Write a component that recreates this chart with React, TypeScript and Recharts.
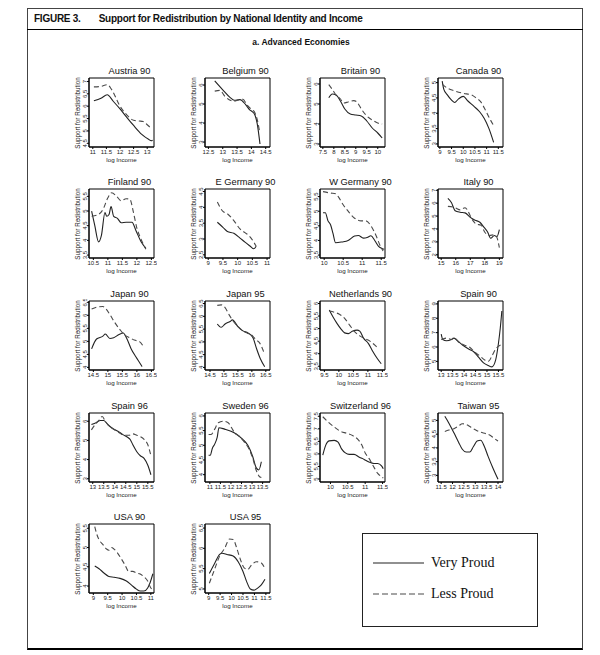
import React from 'react';
import { LineChart, Line, XAxis, YAxis, ReferenceArea } from 'recharts';

type Pt = [number, number];

// ---------- data (x = log income, y = support for redistribution) ----------
const austriaVery: Pt[] = [[11.04, 6.22], [11.3, 6.32], [11.53, 6.46], [11.75, 6.2], [12.0, 5.89], [12.25, 5.55], [12.5, 5.22], [12.8, 4.86], [13.05, 4.66], [13.15, 4.6], [13.2, 4.62]];
const austriaLess: Pt[] = [[11.04, 6.78], [11.3, 6.8], [11.53, 6.87], [11.7, 6.66], [12.0, 6.0], [12.25, 5.65], [12.5, 5.43], [12.7, 5.4], [12.85, 5.38], [13.0, 5.25], [13.15, 5.1]];
const belgiumVery: Pt[] = [[12.72, 6.22], [13.0, 5.75], [13.26, 5.34], [13.4, 5.2], [13.6, 5.23], [13.8, 4.97], [13.95, 4.68], [14.03, 4.6], [14.13, 4.4], [14.2, 4.0], [14.3, 2.9]];
const belgiumLess: Pt[] = [[12.72, 5.68], [12.9, 5.72], [13.08, 5.4], [13.26, 5.2], [13.4, 5.15], [13.55, 5.22], [13.7, 5.25], [13.85, 4.95], [14.0, 4.72], [14.1, 4.6], [14.2, 4.2], [14.28, 3.6]];
const britainVery: Pt[] = [[7.77, 5.31], [7.93, 5.5], [8.1, 5.45], [8.3, 5.15], [8.5, 4.75], [8.75, 4.5], [9.0, 4.45], [9.25, 4.4], [9.5, 4.15], [9.75, 3.8], [10.0, 3.55], [10.2, 3.3]];
const britainLess: Pt[] = [[7.77, 5.97], [7.93, 5.73], [8.1, 5.45], [8.3, 5.25], [8.45, 5.05], [8.65, 5.1], [8.9, 5.17], [9.05, 5.1], [9.25, 4.75], [9.5, 4.4], [9.75, 4.2], [10.0, 4.05], [10.2, 4.0]];
const canadaVery: Pt[] = [[9.1, 5.05], [9.17, 4.78], [9.32, 4.6], [9.47, 4.45], [9.63, 4.35], [9.8, 4.47], [10.0, 4.55], [10.2, 4.4], [10.45, 4.23], [10.7, 4.05], [10.9, 3.83], [11.1, 3.5], [11.3, 3.05]];
const canadaLess: Pt[] = [[9.1, 4.95], [9.32, 4.82], [9.63, 4.73], [10.0, 4.65], [10.35, 4.6], [10.55, 4.5], [10.75, 4.37], [10.95, 4.1], [11.15, 3.8], [11.3, 3.6]];
const finlandVery: Pt[] = [[10.44, 5.0], [10.55, 4.5], [10.68, 3.95], [10.78, 4.18], [10.9, 4.95], [10.96, 4.82], [11.04, 4.88], [11.11, 5.15], [11.2, 4.82], [11.33, 4.75], [11.46, 4.6], [11.63, 4.62], [11.83, 4.62], [11.97, 4.33], [12.14, 3.96], [12.31, 3.73]];
const finlandLess: Pt[] = [[10.44, 4.82], [10.65, 4.87], [10.83, 5.05], [11.0, 5.45], [11.13, 5.62], [11.3, 5.5], [11.46, 5.35], [11.63, 5.42], [11.76, 5.4], [11.88, 4.96], [12.0, 4.42], [12.14, 4.05], [12.31, 3.7]];
const eGermanyVery: Pt[] = [[9.31, 3.53], [9.5, 3.37], [9.65, 3.24], [9.87, 3.18], [10.08, 3.03], [10.25, 2.9], [10.42, 2.78], [10.55, 2.69], [10.63, 2.77]];
const eGermanyLess: Pt[] = [[9.31, 4.17], [9.5, 3.87], [9.65, 3.8], [9.87, 3.58], [10.08, 3.32], [10.25, 3.2], [10.42, 3.07], [10.55, 2.9], [10.63, 2.77]];
const wGermanyVery: Pt[] = [[9.97, 4.95], [10.03, 4.95], [10.1, 4.67], [10.17, 4.53], [10.23, 4.25], [10.3, 3.92], [10.47, 3.95], [10.63, 4.0], [10.8, 4.15], [10.9, 4.17], [11.03, 4.08], [11.13, 4.1], [11.23, 4.16], [11.33, 4.0], [11.43, 3.8], [11.53, 3.72], [11.58, 3.7]];
const wGermanyLess: Pt[] = [[9.97, 5.67], [10.17, 5.62], [10.3, 5.6], [10.37, 5.5], [10.5, 5.22], [10.63, 5.0], [10.8, 4.76], [10.97, 4.67], [11.1, 4.67], [11.23, 4.5], [11.37, 4.15], [11.47, 3.83], [11.55, 3.64]];
const italyVery: Pt[] = [[15.46, 6.37], [15.7, 6.05], [15.96, 5.42], [16.3, 5.3], [16.64, 5.25], [17.0, 4.9], [17.33, 4.68], [17.66, 4.52], [17.92, 4.17], [18.2, 3.75], [18.4, 3.28], [18.66, 3.5], [18.83, 3.4], [19.0, 3.95]];
const italyLess: Pt[] = [[15.46, 5.75], [15.96, 5.65], [16.3, 5.48], [16.64, 5.65], [16.8, 5.48], [17.07, 4.85], [17.4, 4.39], [17.75, 4.28], [18.0, 3.75], [18.3, 3.5], [18.66, 3.55], [18.83, 3.35], [19.0, 2.55]];
const japan90Very: Pt[] = [[14.44, 4.71], [14.61, 5.09], [14.83, 5.2], [14.91, 5.28], [15.07, 5.11], [15.2, 5.14], [15.37, 5.25], [15.53, 5.32], [15.66, 5.09], [15.8, 4.72], [15.97, 4.4], [16.09, 4.19], [16.18, 4.03]];
const japan90Less: Pt[] = [[14.44, 6.24], [14.61, 6.31], [14.83, 6.34], [14.94, 6.24], [15.07, 6.03], [15.24, 5.72], [15.41, 5.46], [15.57, 5.25], [15.74, 5.15], [15.91, 5.05], [16.09, 4.99], [16.22, 4.81]];
const japan95Very: Pt[] = [[14.76, 5.7], [14.9, 5.57], [15.04, 5.7], [15.22, 5.8], [15.3, 5.86], [15.5, 5.6], [15.68, 5.43], [15.86, 5.35], [16.04, 5.16], [16.17, 4.73], [16.3, 4.35], [16.46, 4.03]];
const japan95Less: Pt[] = [[14.76, 6.43], [14.9, 6.45], [15.04, 6.34], [15.18, 6.07], [15.3, 5.86], [15.5, 5.6], [15.68, 5.43], [15.86, 5.33], [16.04, 5.22], [16.13, 5.1], [16.27, 4.97], [16.38, 4.73], [16.46, 4.5]];
const netherlandsVery: Pt[] = [[9.67, 5.74], [9.8, 5.46], [9.94, 5.2], [10.07, 4.99], [10.2, 4.83], [10.33, 4.8], [10.46, 4.89], [10.63, 4.94], [10.72, 4.9], [10.85, 4.62], [11.02, 4.4], [11.15, 4.13], [11.33, 3.8], [11.46, 3.6]];
const netherlandsLess: Pt[] = [[9.67, 5.7], [9.85, 5.65], [10.02, 5.57], [10.2, 5.41], [10.37, 5.14], [10.55, 4.87], [10.72, 4.71], [10.89, 4.6], [11.07, 4.5], [11.24, 4.34], [11.37, 4.18]];
const spain90Very: Pt[] = [[13.0, 6.9], [13.07, 6.52], [13.23, 6.43], [13.45, 6.52], [13.56, 6.62], [13.72, 6.43], [13.93, 6.14], [14.2, 5.86], [14.42, 5.67], [14.63, 5.29], [14.85, 4.9], [15.06, 4.71], [15.22, 4.62], [15.38, 5.1], [15.5, 6.24], [15.58, 7.3], [15.65, 8.5]];
const spain90Less: Pt[] = [[13.0, 6.52], [13.23, 6.62], [13.45, 6.52], [13.56, 6.65], [13.77, 6.33], [14.0, 6.14], [14.27, 5.95], [14.48, 5.62], [14.69, 5.38], [14.9, 5.1], [15.06, 5.0], [15.22, 5.38], [15.38, 5.86], [15.6, 6.14]];
const spain96Very: Pt[] = [[12.94, 5.83], [13.17, 5.94], [13.34, 6.04], [13.5, 6.04], [13.68, 5.83], [13.9, 5.62], [14.14, 5.48], [14.37, 5.3], [14.6, 5.15], [14.7, 5.05], [14.82, 4.77], [15.0, 4.41], [15.16, 4.2], [15.33, 4.06], [15.5, 3.7], [15.64, 3.21]];
const spain96Less: Pt[] = [[12.94, 5.55], [13.11, 5.83], [13.28, 6.04], [13.43, 6.25], [13.57, 6.0], [13.74, 5.76], [13.97, 5.57], [14.2, 5.4], [14.43, 5.27], [14.66, 5.27], [14.82, 5.34], [15.0, 5.27], [15.16, 5.2], [15.33, 5.06], [15.5, 4.77], [15.64, 4.2]];
const swedenVery: Pt[] = [[10.94, 4.66], [11.02, 4.66], [11.12, 4.9], [11.23, 5.04], [11.35, 5.28], [11.43, 5.6], [11.7, 5.55], [12.0, 5.48], [12.28, 5.37], [12.56, 5.2], [12.8, 5.0], [13.03, 4.62], [13.2, 4.23], [13.32, 4.16], [13.44, 4.44]];
const swedenLess: Pt[] = [[10.94, 5.37], [11.06, 5.37], [11.23, 5.55], [11.4, 5.77], [11.64, 5.82], [11.87, 5.77], [12.0, 5.63], [12.16, 5.44], [12.4, 5.3], [12.62, 5.12], [12.85, 4.88], [13.03, 4.56], [13.2, 4.14], [13.32, 3.96], [13.44, 3.9]];
const switzerlandVery: Pt[] = [[9.78, 5.95], [9.86, 6.33], [9.96, 6.52], [10.11, 6.54], [10.22, 6.47], [10.32, 6.2], [10.43, 6.04], [10.54, 5.98], [10.68, 5.98], [10.83, 5.87], [10.97, 5.78], [11.11, 5.68], [11.25, 5.62], [11.36, 5.62], [11.47, 5.52], [11.52, 5.41]];
const switzerlandLess: Pt[] = [[9.78, 7.48], [9.93, 7.28], [10.11, 7.07], [10.29, 6.9], [10.47, 6.82], [10.65, 6.72], [10.79, 6.58], [10.9, 6.36], [11.0, 6.04], [11.11, 5.82], [11.22, 5.55], [11.36, 5.22], [11.47, 5.09], [11.52, 5.04]];
const taiwanVery: Pt[] = [[11.66, 5.15], [11.84, 4.9], [12.06, 4.55], [12.27, 4.2], [12.43, 3.95], [12.6, 3.85], [12.76, 3.85], [12.92, 4.05], [13.08, 4.25], [13.24, 4.28], [13.4, 4.05], [13.56, 3.7], [13.78, 3.26], [14.0, 2.86]];
const taiwanLess: Pt[] = [[11.66, 4.6], [11.84, 4.65], [12.06, 4.7], [12.27, 4.8], [12.43, 4.88], [12.6, 4.85], [12.81, 4.75], [13.02, 4.65], [13.24, 4.57], [13.46, 4.52], [13.67, 4.45], [13.83, 4.35], [14.0, 4.25]];
const usa90Very: Pt[] = [[9.05, 4.52], [9.2, 4.45], [9.37, 4.34], [9.54, 4.25], [9.72, 4.23], [9.93, 4.2], [10.15, 4.13], [10.32, 4.03], [10.5, 3.92], [10.63, 3.87], [10.76, 3.87], [10.89, 3.95], [10.98, 4.1], [11.07, 4.32]];
const usa90Less: Pt[] = [[9.05, 5.54], [9.11, 5.37], [9.2, 5.2], [9.33, 5.08], [9.46, 4.96], [9.54, 4.93], [9.63, 5.0], [9.72, 4.96], [9.85, 4.85], [9.97, 4.71], [10.1, 4.55], [10.23, 4.38], [10.37, 4.38], [10.5, 4.34], [10.63, 4.31], [10.76, 4.24], [10.89, 4.13], [11.0, 3.95], [11.07, 3.91]];
const usa95Very: Pt[] = [[9.03, 5.38], [9.27, 5.64], [9.48, 5.85], [9.59, 5.88], [9.8, 5.85], [10.07, 5.81], [10.29, 5.67], [10.5, 5.43], [10.66, 5.18], [10.82, 5.0], [10.98, 4.97], [11.14, 5.02], [11.3, 5.1], [11.46, 5.24]];
const usa95Less: Pt[] = [[9.03, 5.14], [9.27, 5.5], [9.48, 5.81], [9.7, 6.0], [9.91, 6.23], [10.07, 6.22], [10.23, 6.0], [10.39, 5.72], [10.55, 5.52], [10.71, 5.48], [10.87, 5.59], [11.09, 5.67], [11.3, 5.64], [11.46, 5.5]];

// ---------- panel names, axis ranges, tick labels ----------
const titles = ['Austria 90', 'Belgium 90', 'Britain 90', 'Canada 90', 'Finland 90', 'E Germany 90', 'W Germany 90', 'Italy 90', 'Japan 90', 'Japan 95', 'Netherlands 90', 'Spain 90', 'Spain 96', 'Sweden 96', 'Switzerland 96', 'Taiwan 95', 'USA 90', 'USA 95'];
const xDomains: Pt[] = [[10.86, 13.25], [12.38, 14.65], [7.37, 10.33], [8.92, 11.7], [10.35, 12.59], [8.89, 11.1], [9.89, 11.6], [14.78, 19.25], [14.35, 16.59], [14.32, 16.65], [9.35, 11.59], [12.86, 15.7], [12.83, 15.78], [10.77, 13.85], [9.7, 11.57], [11.36, 14.22], [8.85, 11.11], [8.84, 11.68]];
const yDomains: Pt[] = [[4.35, 7.14], [2.74, 6.37], [2.85, 6.3], [2.9, 5.15], [3.4, 5.75], [2.4, 4.58], [3.4, 5.76], [1.75, 7.1], [3.9, 6.55], [3.9, 6.6], [3.35, 6.1], [4.4, 9.2], [2.83, 6.43], [3.75, 6.1], [4.88, 7.63], [2.76, 5.27], [3.82, 5.61], [4.9, 6.6]];
const xTicks: number[][] = [[11, 11.5, 12, 12.5, 13], [12.5, 13, 13.5, 14, 14.5], [7.5, 8, 8.5, 9, 9.5, 10], [9, 9.5, 10, 10.5, 11, 11.5], [10.5, 11, 11.5, 12, 12.5], [9, 9.5, 10, 10.5, 11], [10, 10.5, 11, 11.5], [15, 16, 17, 18, 19], [14.5, 15, 15.5, 16, 16.5], [14.5, 15, 15.5, 16, 16.5], [9.5, 10, 10.5, 11, 11.5], [13, 13.5, 14, 14.5, 15, 15.5], [13, 13.5, 14, 14.5, 15, 15.5], [11, 11.5, 12, 12.5, 13, 13.5], [10, 10.5, 11, 11.5], [11.5, 12, 12.5, 13, 13.5, 14], [9, 9.5, 10, 10.5, 11], [9, 9.5, 10, 10.5, 11, 11.5]];
const yTicks: number[][] = [[4.5, 5, 5.5, 6, 6.5, 7], [3, 4, 5, 6], [3, 4, 5, 6], [3, 3.5, 4, 4.5, 5], [3.5, 4, 4.5, 5, 5.5], [2.5, 3, 3.5, 4, 4.5], [3.5, 4, 4.5, 5, 5.5], [2, 3, 4, 5, 6, 7], [4, 4.5, 5, 5.5, 6, 6.5], [4, 4.5, 5, 5.5, 6, 6.5], [3.5, 4, 4.5, 5, 5.5, 6], [5, 6, 7, 8, 9], [3, 4, 5, 6], [4, 4.5, 5, 5.5, 6], [5, 5.5, 6, 6.5, 7, 7.5], [3, 3.5, 4, 4.5, 5], [4, 4.5, 5, 5.5], [5, 5.5, 6, 6.5]];
const veryProud: Pt[][] = [austriaVery, belgiumVery, britainVery, canadaVery, finlandVery, eGermanyVery, wGermanyVery, italyVery, japan90Very, japan95Very, netherlandsVery, spain90Very, spain96Very, swedenVery, switzerlandVery, taiwanVery, usa90Very, usa95Very];
const lessProud: Pt[][] = [austriaLess, belgiumLess, britainLess, canadaLess, finlandLess, eGermanyLess, wGermanyLess, italyLess, japan90Less, japan95Less, netherlandsLess, spain90Less, spain96Less, swedenLess, switzerlandLess, taiwanLess, usa90Less, usa95Less];
const legendLabels = ['Very Proud', 'Less Proud'];

// ---------- layout ----------
const COL_X = [89, 205, 320, 438];
const ROW_Y = [78, 189, 301, 413, 524];
const BW = 65;
const BH = 69;
const YW = 10; // y-axis width (ticks + tick labels)
const XH = 10; // x-axis height
const MT = 2;
const MR = 3;
const SANS = '"Liberation Sans", Arial, Helvetica, sans-serif';
const SERIF = '"Liberation Serif", "Times New Roman", serif';

const YTick = (props: any) => {
  const { x, y, payload } = props;
  const tx = x + 1.5;
  return (
    <text x={tx} y={y} transform={`rotate(-90 ${tx} ${y})`} textAnchor="middle" fontSize={6} fontFamily={SANS} fill="#222">
      {payload.value}
    </text>
  );
};

const toObj = (arr: Pt[]) => arr.map(([x, y]) => ({ x, y }));

function Panel({ i }: { i: number }) {
  const col = i % 4;
  const row = Math.floor(i / 4);
  const bx = COL_X[col];
  const by = ROW_Y[row];
  const cw = YW + BW + MR;
  const ch = MT + BH + XH;
  const [x0, x1] = xDomains[i];
  const [y0, y1] = yDomains[i];
  return (
    <>
      <div style={{ position: 'absolute', left: bx - 2, top: by - 12, width: BW + 20, textAlign: 'center', fontFamily: SANS, fontSize: 9.3, lineHeight: '11px', color: '#111', whiteSpace: 'nowrap' }}>
        {titles[i]}
      </div>
      <div style={{ position: 'absolute', left: bx - 11.5 - 50, top: by + BH / 2 - 4, width: 100, height: 8, textAlign: 'center', transform: 'rotate(-90deg)', transformOrigin: '50px 4px', fontFamily: SANS, fontSize: 6.3, lineHeight: '8px', color: '#222', whiteSpace: 'nowrap' }}>
        Support for Redistribution
      </div>
      <div style={{ position: 'absolute', left: bx - 10, top: by + BH + 9, width: BW + 20, textAlign: 'center', fontFamily: SANS, fontSize: 6.2, lineHeight: '7px', color: '#222' }}>
        log Income
      </div>
      <div style={{ position: 'absolute', left: bx - YW, top: by - MT }}>
        <LineChart width={cw} height={ch} margin={{ top: MT, right: MR, bottom: 0, left: 0 }}>
          <XAxis
            type="number"
            dataKey="x"
            domain={[x0, x1]}
            ticks={xTicks[i]}
            allowDataOverflow
            height={XH}
            tickSize={2}
            tickMargin={0.3}
            interval={0}
            stroke="#000"
            tick={{ fontSize: 6, fontFamily: SANS, fill: '#222' }}
          />
          <YAxis
            type="number"
            dataKey="y"
            domain={[y0, y1]}
            ticks={yTicks[i]}
            allowDataOverflow
            width={YW}
            tickSize={2}
            tickMargin={1.5}
            interval={0}
            stroke="#000"
            tick={<YTick />}
          />
          <ReferenceArea x1={x0} x2={x1} y1={y0} y2={y1} fill="none" stroke="#000" strokeWidth={1} fillOpacity={0} />
          <Line data={toObj(veryProud[i])} dataKey="y" type="monotone" stroke="#222" strokeWidth={1.1} dot={false} isAnimationActive={false} />
          <Line data={toObj(lessProud[i])} dataKey="y" type="monotone" stroke="#4a4a4a" strokeWidth={1.1} strokeDasharray="5 3" dot={false} isAnimationActive={false} />
        </LineChart>
      </div>
    </>
  );
}

export default function App() {
  return (
    <div style={{ position: 'absolute', left: 0, top: 0, width: 600, height: 655, background: '#fff', overflow: 'hidden' }}>
      <div style={{ position: 'absolute', left: 27, top: 8, width: 556, height: 642, border: '1px solid #444', borderBottom: '2px solid #000', boxSizing: 'border-box' }} />
      <div style={{ position: 'absolute', left: 34, top: 12, fontFamily: SANS, fontWeight: 'bold', fontSize: 10, letterSpacing: -0.25, lineHeight: '14px', whiteSpace: 'nowrap', color: '#111' }}>
        FIGURE 3.<span style={{ display: 'inline-block', width: 18 }} />Support for Redistribution by National Identity and Income
      </div>
      <div style={{ position: 'absolute', left: 27, top: 29, width: 556, height: 1, background: '#000' }} />
      <div style={{ position: 'absolute', left: 27, top: 37, width: 548, textAlign: 'center', fontFamily: SANS, fontWeight: 'bold', fontSize: 8.5, lineHeight: '11px', color: '#111' }}>
        a. Advanced Economies
      </div>
      {titles.map((_, i) => (
        <Panel key={i} i={i} />
      ))}
      <div style={{ position: 'absolute', left: 362, top: 533, width: 176, height: 94, border: '1px solid #222', boxSizing: 'border-box' }}>
        <svg width={174} height={92} style={{ position: 'absolute', left: 0, top: 0 }}>
          <line x1={10} x2={61} y1={29} y2={29} stroke="#222" strokeWidth={1.1} />
          <line x1={10} x2={61} y1={60} y2={60} stroke="#4a4a4a" strokeWidth={1.1} strokeDasharray="6 3" />
          <text x={68} y={33} fontFamily={SERIF} fontSize={14} fill="#111">{legendLabels[0]}</text>
          <text x={68} y={64} fontFamily={SERIF} fontSize={14} fill="#111">{legendLabels[1]}</text>
        </svg>
      </div>
    </div>
  );
}
